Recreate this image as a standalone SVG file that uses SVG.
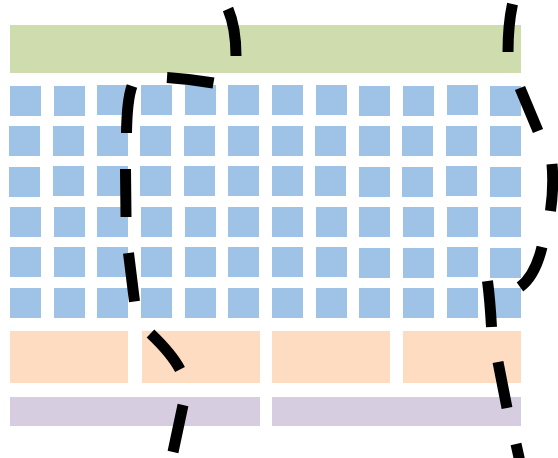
<svg xmlns="http://www.w3.org/2000/svg" width="558" height="458" viewBox="0 0 558 458">
<style>
.g{fill:#cfdcad}
.b{fill:#9fc2e7}
.o{fill:#fddcc2}
.p{fill:#d6cde1}
.d{fill:none;stroke:#000;stroke-width:11;stroke-linecap:butt}
</style>
<rect width="558" height="458" fill="#fff"/>
<g id="top-bar"><rect class="g" x="10" y="25" width="511" height="48"/></g>
<g id="grid">
<g id="row1">
<rect class="b" x="10" y="86" width="31" height="30"/><rect class="b" x="54" y="86" width="31" height="30"/><rect class="b" x="97" y="85" width="31" height="30"/><rect class="b" x="141" y="85" width="31" height="30"/><rect class="b" x="185" y="85" width="31" height="30"/><rect class="b" x="228" y="85" width="31" height="30"/><rect class="b" x="272" y="85" width="31" height="30"/><rect class="b" x="316" y="85" width="31" height="30"/><rect class="b" x="359" y="86" width="31" height="30"/><rect class="b" x="403" y="86" width="31" height="30"/><rect class="b" x="447" y="85" width="31" height="30"/><rect class="b" x="490" y="86" width="31" height="30"/>
</g>
<g id="row2">
<rect class="b" x="9" y="126" width="31" height="30"/><rect class="b" x="53" y="126" width="31" height="30"/><rect class="b" x="97" y="126" width="31" height="30"/><rect class="b" x="140" y="126" width="31" height="30"/><rect class="b" x="184" y="126" width="31" height="30"/><rect class="b" x="228" y="126" width="31" height="30"/><rect class="b" x="272" y="126" width="31" height="30"/><rect class="b" x="315" y="126" width="31" height="30"/><rect class="b" x="359" y="126" width="31" height="30"/><rect class="b" x="402" y="126" width="31" height="30"/><rect class="b" x="446" y="126" width="31" height="30"/><rect class="b" x="490" y="126" width="31" height="30"/>
</g>
<g id="row3">
<rect class="b" x="9" y="167" width="31" height="30"/><rect class="b" x="53" y="166" width="31" height="30"/><rect class="b" x="97" y="166" width="31" height="30"/><rect class="b" x="140" y="166" width="31" height="30"/><rect class="b" x="184" y="166" width="31" height="30"/><rect class="b" x="228" y="166" width="31" height="30"/><rect class="b" x="272" y="166" width="31" height="30"/><rect class="b" x="315" y="166" width="31" height="30"/><rect class="b" x="359" y="167" width="31" height="30"/><rect class="b" x="402" y="167" width="31" height="30"/><rect class="b" x="446" y="166" width="31" height="30"/><rect class="b" x="490" y="167" width="31" height="30"/>
</g>
<g id="row4">
<rect class="b" x="10" y="207" width="31" height="30"/><rect class="b" x="54" y="207" width="31" height="30"/><rect class="b" x="97" y="207" width="31" height="30"/><rect class="b" x="141" y="207" width="31" height="30"/><rect class="b" x="185" y="207" width="31" height="30"/><rect class="b" x="228" y="207" width="31" height="30"/><rect class="b" x="272" y="207" width="31" height="30"/><rect class="b" x="316" y="207" width="31" height="30"/><rect class="b" x="359" y="207" width="31" height="30"/><rect class="b" x="403" y="207" width="31" height="30"/><rect class="b" x="447" y="207" width="31" height="30"/><rect class="b" x="490" y="207" width="31" height="30"/>
</g>
<g id="row5">
<rect class="b" x="10" y="247" width="31" height="30"/><rect class="b" x="54" y="247" width="31" height="30"/><rect class="b" x="97" y="247" width="31" height="30"/><rect class="b" x="141" y="247" width="31" height="30"/><rect class="b" x="185" y="247" width="31" height="30"/><rect class="b" x="228" y="247" width="31" height="30"/><rect class="b" x="272" y="247" width="31" height="30"/><rect class="b" x="316" y="247" width="31" height="30"/><rect class="b" x="359" y="248" width="31" height="30"/><rect class="b" x="403" y="248" width="31" height="30"/><rect class="b" x="447" y="247" width="31" height="30"/><rect class="b" x="490" y="248" width="31" height="30"/>
</g>
<g id="row6">
<rect class="b" x="10" y="288" width="31" height="30"/><rect class="b" x="54" y="288" width="31" height="30"/><rect class="b" x="97" y="288" width="31" height="30"/><rect class="b" x="141" y="288" width="31" height="30"/><rect class="b" x="185" y="288" width="31" height="30"/><rect class="b" x="228" y="288" width="31" height="30"/><rect class="b" x="272" y="288" width="31" height="30"/><rect class="b" x="316" y="288" width="31" height="30"/><rect class="b" x="359" y="288" width="31" height="30"/><rect class="b" x="403" y="288" width="31" height="30"/><rect class="b" x="447" y="288" width="31" height="30"/><rect class="b" x="490" y="288" width="31" height="30"/>
</g>
</g>
<g id="orange-row">
<rect class="o" x="10" y="331" width="118" height="52"/>
<rect class="o" x="142" y="331" width="118" height="52"/>
<rect class="o" x="272" y="331" width="118" height="52"/>
<rect class="o" x="403" y="331" width="118" height="52"/>
</g>
<g id="purple-row">
<rect class="p" x="10" y="397" width="250" height="29"/>
<rect class="p" x="272" y="397" width="249" height="29"/>
</g>
<g id="connectors">
<path id="left-dashed" class="d" d="M228,9 Q236,28 236,56 M213.5,83 Q190,79 167,77.5 M132,86 Q127,100 126.5,133 M125.5,169 L126,217 M128.5,253 L134.5,301.5 M150.5,333.5 Q172,354 180,369.5 M183,405 L173,452"/>
<path id="right-dashed" class="d" d="M512.5,4 Q508,25 508,52 M520,88 L538,131 M552,164 Q554,186 550.5,211 M542,247 Q535,276 520,287 M487.5,281 Q490,300 491.5,327 M498,362 L507,408 M516,444 L520,462"/>
</g>
</svg>
